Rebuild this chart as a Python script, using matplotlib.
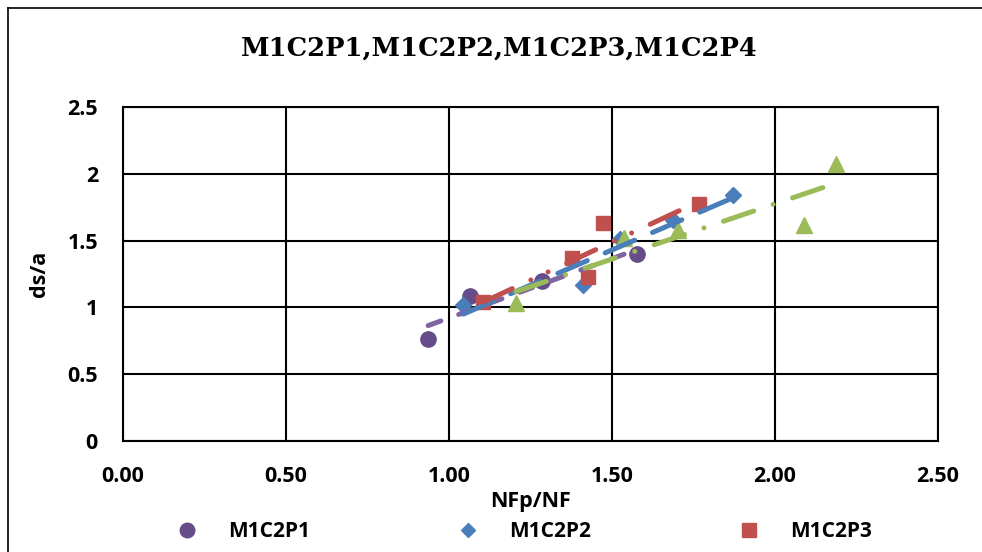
import numpy as np
import matplotlib.pyplot as plt
from matplotlib.lines import Line2D
from matplotlib.ticker import FuncFormatter

# Series data
p1_x = [0.936, 1.064, 1.284, 1.578]
p1_y = [0.764, 1.087, 1.200, 1.398]
p2_x = [1.044, 1.410, 1.525, 1.688, 1.870]
p2_y = [1.015, 1.167, 1.510, 1.655, 1.841]
p3_x = [1.105, 1.378, 1.427, 1.473, 1.767]
p3_y = [1.040, 1.369, 1.231, 1.634, 1.772]
p4_x = [1.205, 1.537, 1.703, 2.090, 2.187]
p4_y = [1.033, 1.518, 1.580, 1.617, 2.072]
names = ["M1C2P1", "M1C2P2", "M1C2P3", "M1C2P4"]

x_ticks = [0.0, 0.5, 1.0, 1.5, 2.0, 2.5]
y_ticks = [0.0, 0.5, 1.0, 1.5, 2.0, 2.5]

W, H = 982, 552
fig = plt.figure(figsize=(W / 100, H / 100), dpi=100)
ax = fig.add_axes([123 / W, 1 - 441 / H, (938 - 123) / W, (441 - 107) / H])

sans = "Open Sans"
lw = 3.6
series = [
    (p1_x, p1_y, "o", 11, "#664D8A", "#8064A2", (0, (2.7, 3.8))),
    (p2_x, p2_y, "D", 8, "#4A7EBB", "#4A7EBB", (0, (6.4, 3.9))),
    (p3_x, p3_y, "s", 10, "#C0504D", "#C0504D", (0, (6.4, 4.1, 0.01, 3.8, 0.01, 4.1))),
    (p4_x, p4_y, "^", 11, "#9BBB59", "#9BBB59", (0, (6.4, 4.1, 0.01, 4.1))),
]

handles = []
for i, (xs, ys, mk, ms, mcol, lcol, ls) in enumerate(series):
    xs = np.array(xs)
    ys = np.array(ys)
    ax.plot(xs, ys, linestyle="none", marker=mk, markersize=ms,
            color=mcol, markeredgecolor=mcol, zorder=3)
    # linear trendline
    k, b = np.polyfit(xs, ys, 1)
    tx = np.array([xs.min(), xs.max()])
    ax.plot(tx, k * tx + b, color=lcol, lw=lw, linestyle=ls,
            dash_capstyle="round", solid_capstyle="round", zorder=4 + i)
    # the fourth legend entry lies outside the visible picture
    if i < 3:
        handles.append(Line2D([], [], linestyle="none", marker=mk,
                              markersize=ms * 0.95, color=mcol, label=names[i]))

ax.set_xlim(0, 2.5)
ax.set_ylim(0, 2.5)
ax.set_xticks(x_ticks)
ax.set_yticks(y_ticks)
ax.xaxis.set_major_formatter(FuncFormatter(lambda v, p: f"{v:.2f}"))
ax.yaxis.set_major_formatter(FuncFormatter(lambda v, p: f"{v:g}"))
ax.grid(True, color="black", lw=1.5)
ax.set_axisbelow(True)
for s in ax.spines.values():
    s.set_color("black")
    s.set_linewidth(1.5)
ax.tick_params(length=0, labelsize=15.5)
ax.tick_params(axis="x", pad=18)
ax.tick_params(axis="y", pad=18)
for lab in ax.get_xticklabels() + ax.get_yticklabels():
    lab.set_fontfamily(sans)
    lab.set_fontweight("bold")

ax.set_xlabel("NFp/NF", fontsize=15.5, fontweight="bold", family=sans)
ax.xaxis.set_label_coords(0.5, (441 - 501.7) / 334)
ax.xaxis.label.set_va("center")
ax.set_ylabel("ds/a", fontsize=15.5, fontweight="bold", family=sans)
ax.yaxis.set_label_coords((40 - 123) / 815, 0.5)
ax.yaxis.label.set_va("center")

fig.text(499.5 / W, 1 - 48 / H, "M1C2P1,M1C2P2,M1C2P3,M1C2P4",
         ha="center", va="center", fontsize=18.5, fontweight="bold",
         family="DejaVu Serif")

fig.legend(handles=handles, loc="center left",
           bbox_to_anchor=(177 / W, 1 - 531.7 / H), ncol=3, frameon=False,
           prop={"family": sans, "weight": "bold", "size": 15},
           handlelength=1.0, handletextpad=1.45, columnspacing=7.1,
           borderpad=0, borderaxespad=0)

# chart border (right and bottom edges fall outside the image)
fig.add_artist(Line2D([8 / W, 8 / W], [0, 1 - 8 / H], color="black", lw=1.2))
fig.add_artist(Line2D([8 / W, 1], [1 - 8 / H, 1 - 8 / H], color="black", lw=1.2))

fig.savefig("out.png", dpi=100)
